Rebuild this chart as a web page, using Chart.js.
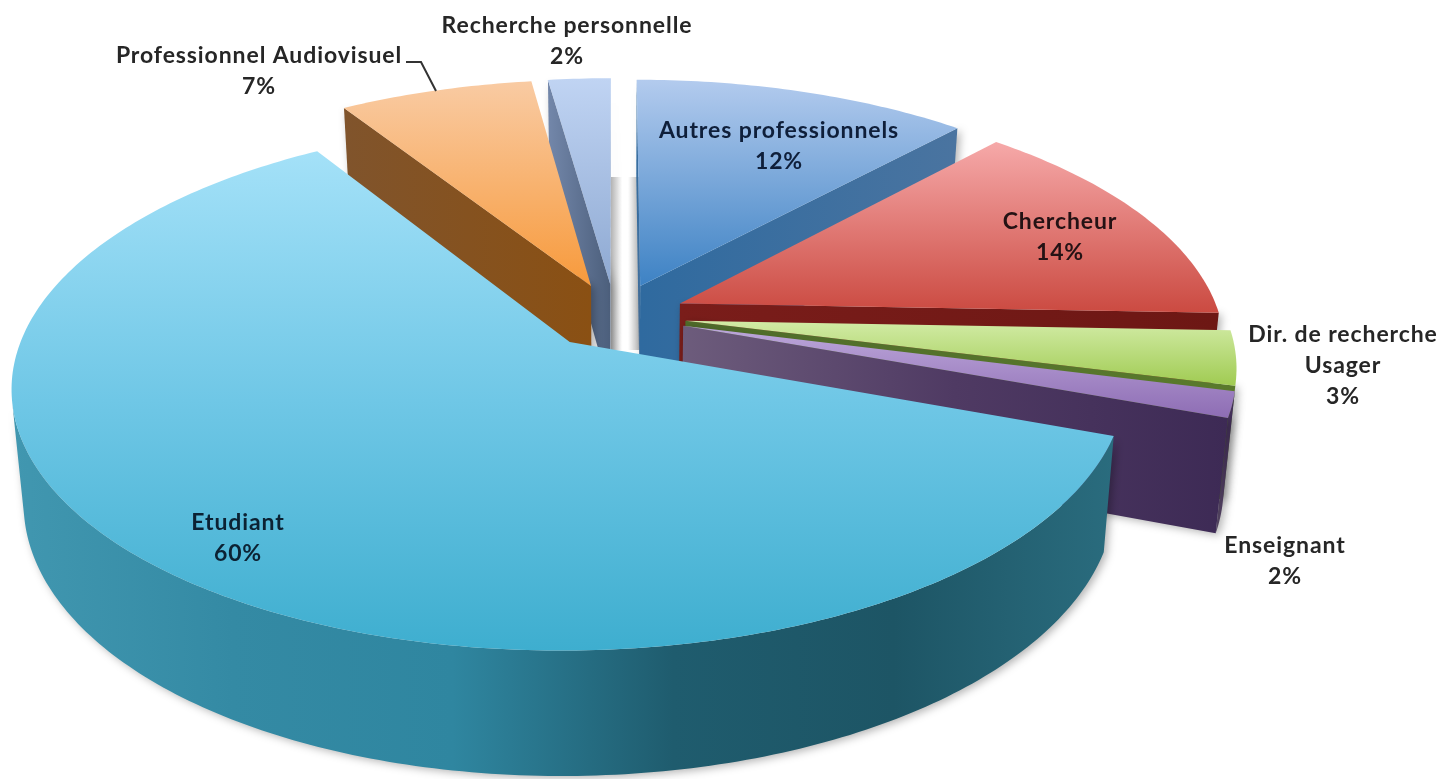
<!DOCTYPE html>
<html lang="fr">
<head>
<meta charset="utf-8">
<title>Public</title>
<script src="https://cdn.jsdelivr.net/npm/chart.js@4"></script>
<style>
    html, body { margin: 0; background: #fff; }
    canvas { display: block; filter: blur(0.7px); }
</style>
</head>
<body>
<canvas id="pieChart" width="1443" height="779"></canvas>
<script>
// Data, clockwise from the top of the pie (labels show them rounded)
const categories = ['Autres professionnels', 'Chercheur', 'Dir. de recherche Usager', 'Enseignant', 'Etudiant', 'Professionnel Audiovisuel', 'Recherche personnelle'];
const percentages = [11.8, 13.8, 3.4, 1.6, 60.4, 6.8, 2.2];

// Text blocks: centre of the block, how the name is broken over lines
const labelLines = [['Autres professionnels'], ['Chercheur'], ['Dir. de recherche', 'Usager'], ['Enseignant'], ['Etudiant'], ['Professionnel Audiovisuel'], ['Recherche personnelle']];
const labelSpots = [[779, 131], [1060, 222], [1343, 335], [1285, 546], [238, 523], [259, 56], [567, 26]];
const labelInk = ['#0f1f3a', '#241214', '#262626', '#262626', '#0c2233', '#262626', '#262626'];

// Colours of the faces: top goes top to bottom, wall goes left to right
const topColors = [
    ['#b3cbee', '#3d82c4'],
    ['#f6a9a9', '#cb4a41'],
    ['#d2eba6', '#a0cb52'],
    ['#bda8db', '#8e6db4'],
    ['#a4e1f8', '#6fc7e6', '#3eaecf'],
    ['#f9cba3', '#f79a3c'],
    ['#c0d4f3', '#8ea9d2']
];
const wallColors = [
    ['#2f6a9f', '#4a74a0'],
    ['#7a1d1a', '#6d1714'],
    ['#4f6b2a', '#5a7a2c'],
    ['#6d5c7c', '#4f3a63', '#3d2a55'],
    ['#4197b0', '#348aa4', '#2f86a0', '#1f5c6e', '#1d5565', '#2a6c7e'],
    ['#80542c', '#8a5013'],
    ['#7387aa', '#4c5f7c']
];

// Camera: how the flat pie is laid down in perspective
const view = { cx: 615, cy: 316, rx: 540, ry: 249, persp: 0.163, depth: 110, depthFront: 14, shrink: 0.98 };

function project(X, Y, low) {
    const w = 1 - view.persp * Y;
    let x = view.rx * X / w;
    let y = view.ry * Y / w;
    if (low) {
        x *= view.shrink;
        y += view.depth + view.depthFront * Y;
    }
    return { x: view.cx + x, y: view.cy + y };
}

function fillPath(ctx, points, fill) {
    ctx.beginPath();
    points.forEach((p, i) => (i ? ctx.lineTo(p.x, p.y) : ctx.moveTo(p.x, p.y)));
    ctx.closePath();
    ctx.fillStyle = fill;
    ctx.fill();
}

function makeGradient(ctx, points, stops, horizontal) {
    const key = horizontal ? 'x' : 'y';
    const values = points.map(p => p[key]);
    const a = Math.min(...values);
    const b = Math.max(...values);
    const g = horizontal ? ctx.createLinearGradient(a, 0, b, 0) : ctx.createLinearGradient(0, a, 0, b);
    stops.forEach((c, i) => g.addColorStop(i / (stops.length - 1), c));
    return g;
}

function drawSlice(ctx, arc, index) {
    const mid = (arc.startAngle + arc.endAngle) / 2;
    const off = arc.options.offset / arc.outerRadius;
    const ax = Math.cos(mid) * off;
    const ay = Math.sin(mid) * off;

    // outline of the slice on the unit circle
    const outline = [[ax, ay]];
    const steps = Math.ceil((arc.endAngle - arc.startAngle) / 0.015);
    for (let i = 0; i <= steps; i++) {
        const t = arc.startAngle + (arc.endAngle - arc.startAngle) * i / steps;
        outline.push([ax + Math.cos(t), ay + Math.sin(t)]);
    }
    outline.push([ax, ay]);

    const top = outline.map(p => project(p[0], p[1], false));
    const low = outline.map(p => project(p[0], p[1], true));

    // walls: only the stretches of the outline that face the viewer
    let strip = [];
    const flush = () => {
        if (strip.length > 1) {
            const poly = strip.map(i => top[i]).concat(strip.slice().reverse().map(i => low[i]));
            ctx.shadowColor = 'rgba(0,0,0,0.3)';
            ctx.shadowBlur = 8;
            ctx.shadowOffsetX = 3;
            ctx.shadowOffsetY = 2;
            fillPath(ctx, poly, makeGradient(ctx, poly, wallColors[index], true));
            ctx.shadowColor = 'transparent';
        }
        strip = [];
    };
    for (let i = 0; i < top.length - 1; i++) {
        const q = [top[i], top[i + 1], low[i + 1], low[i]];
        let area = 0;
        q.forEach((p, k) => {
            const n = q[(k + 1) % 4];
            area += p.x * n.y - n.x * p.y;
        });
        const corner = i === 0 || i === top.length - 3;
        if (area < 0) {
            if (!strip.length) strip.push(i);
            strip.push(i + 1);
        }
        if (area >= 0 || corner) flush();
    }
    flush();

    fillPath(ctx, top, makeGradient(ctx, top, topColors[index], false));
}

// grey shading on both sides of the gap at the top of the pie
function drawGapShade(ctx) {
    let g = ctx.createLinearGradient(611, 0, 622, 0);
    g.addColorStop(0, '#b5b5b5');
    g.addColorStop(1, '#ffffff');
    ctx.fillStyle = g;
    ctx.fillRect(611, 177, 11, 173);
    g = ctx.createLinearGradient(628, 0, 640, 0);
    g.addColorStop(0, '#ffffff');
    g.addColorStop(1, '#b5b5b5');
    ctx.fillStyle = g;
    ctx.fillRect(628, 177, 12, 173);
}

const solidPie = {
    id: 'solidPie',
    beforeDatasetDraw(chart, args) {
        const ctx = chart.ctx;
        const arcs = args.meta.data;
        // back slices first, the front ones paint over them
        const order = arcs.map((_, i) => i).sort((a, b) =>
            Math.sin((arcs[a].startAngle + arcs[a].endAngle) / 2) - Math.sin((arcs[b].startAngle + arcs[b].endAngle) / 2));
        ctx.save();
        drawGapShade(ctx);
        order.forEach(i => drawSlice(ctx, arcs[i], i));
        ctx.restore();
        return false;
    },
    afterDatasetsDraw(chart) {
        const ctx = chart.ctx;
        ctx.save();
        ctx.font = 'bold 23px Lato';
        ctx.letterSpacing = '0.9px';
        ctx.textAlign = 'center';
        ctx.textBaseline = 'middle';
        categories.forEach((_, i) => {
            const lines = labelLines[i].concat(Math.round(percentages[i]) + '%');
            ctx.fillStyle = labelInk[i];
            lines.forEach((line, k) => ctx.fillText(line, labelSpots[i][0], labelSpots[i][1] + k * 31));
        });
        // leader line of the audiovisual label
        ctx.strokeStyle = '#333333';
        ctx.lineWidth = 2;
        ctx.beginPath();
        ctx.moveTo(406, 62);
        ctx.lineTo(421, 62);
        ctx.lineTo(436, 91);
        ctx.stroke();
        ctx.restore();
    }
};

new Chart(document.getElementById('pieChart').getContext('2d'), {
    type: 'pie',
    data: {
        labels: categories,
        datasets: [{
            data: percentages,
            offset: 48,
            borderWidth: 0,
            hoverOffset: 0
        }]
    },
    options: {
        responsive: false,
        animation: false,
        events: [],
        rotation: 0,
        plugins: {
            legend: { display: false },
            tooltip: { enabled: false }
        }
    },
    plugins: [solidPie]
});
</script>
</body>
</html>
